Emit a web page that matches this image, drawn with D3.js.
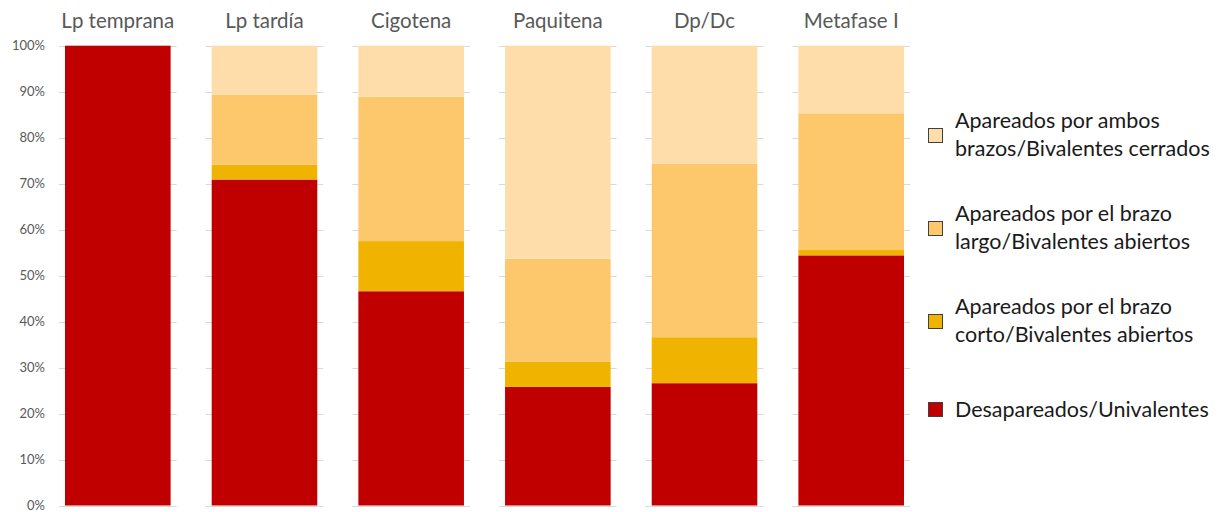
<!DOCTYPE html>
<html>
<head>
<meta charset="utf-8">
<script src="https://cdn.jsdelivr.net/npm/d3@7"></script>
<style>
  html, body { margin: 0; padding: 0; background: #ffffff; }
  svg { display: block; }
  text { font-family: Lato, "Open Sans", sans-serif; }
</style>
</head>
<body>
<div id="chart"></div>
<script>
// Meiotic stages (one column each)
const stages = ["Lp temprana", "Lp tardía", "Cigotena", "Paquitena", "Dp/Dc", "Metafase I"];

// Percent of chromosomes in each pairing state, per stage
const desapareados = [100.0, 70.9, 46.6, 25.8, 26.6, 54.4];
const brazoCorto   = [0.0,   3.2,  10.9, 5.5,  10.0, 1.3];
const brazoLargo   = [0.0,   15.2, 31.4, 22.4, 37.7, 29.6];
const ambosBrazos  = [0.0,   10.7, 11.1, 46.3, 25.7, 14.7];

const seriesNames = [
  "Desapareados/Univalentes",
  "Apareados por el brazo corto/Bivalentes abiertos",
  "Apareados por el brazo largo/Bivalentes abiertos",
  "Apareados por ambos brazos/Bivalentes cerrados"
];
const legendLines = [
  ["Apareados por ambos", "brazos/Bivalentes cerrados"],
  ["Apareados por el brazo", "largo/Bivalentes abiertos"],
  ["Apareados por el brazo", "corto/Bivalentes abiertos"],
  ["Desapareados/Univalentes"]
];
const yTicks = [0, 10, 20, 30, 40, 50, 60, 70, 80, 90, 100];

const colors = ["#C00000", "#EFB300", "#FDC86C", "#FFDDAB"];

const W = 1223, H = 512;
const svg = d3.select("#chart").append("svg").attr("width", W).attr("height", H);

const x = d3.scaleBand().domain(stages).range([65, 904]).paddingInner(0.28).paddingOuter(0);
const y = d3.scaleLinear().domain([0, 100]).range([505.5, 45.7]);

const table = stages.map((s, i) => ({
  stage: s,
  s0: desapareados[i], s1: brazoCorto[i], s2: brazoLargo[i], s3: ambosBrazos[i]
}));
const stack = d3.stack().keys(["s0", "s1", "s2", "s3"]);
const layers = stack(table);

// Short gridline segments under each column
const grid = svg.append("g");
stages.forEach(s => {
  grid.selectAll(null).data(yTicks).join("line")
    .attr("x1", x(s) - 6).attr("x2", x(s) + x.bandwidth() + 6)
    .attr("y1", d => Math.round(y(d)) + 0.5).attr("y2", d => Math.round(y(d)) + 0.5)
    .attr("stroke", "#d9d9d9").attr("stroke-width", 1);
});

// Y axis labels
const yAxis = d3.axisLeft(y).tickValues(yTicks).tickFormat(d => d + "%").tickSize(0).tickPadding(0);
const ya = svg.append("g").attr("transform", "translate(45,0)").call(yAxis);
ya.select(".domain").remove();
ya.selectAll("text").attr("fill", "#595959").style("font-size", "13px")
  .style("font-family", "Lato, sans-serif");

// Stacked bars
svg.append("g").selectAll("g").data(layers).join("g")
  .attr("fill", (d, i) => colors[i])
  .selectAll("rect").data(d => d).join("rect")
  .attr("x", d => x(d.data.stage))
  .attr("width", x.bandwidth())
  .attr("y", d => y(d[1]))
  .attr("height", d => Math.max(0, y(d[0]) - y(d[1])));

// Column titles
svg.append("g").selectAll("text").data(stages).join("text")
  .attr("x", d => x(d) + x.bandwidth() / 2)
  .attr("y", 28)
  .attr("text-anchor", "middle")
  .attr("fill", "#595959")
  .style("font-size", "20.5px")
  .text(d => d);

// Legend
const legendTop = [128, 221, 314, 402];
const lg = svg.append("g");
[3, 2, 1, 0].forEach((si, k) => {
  const lines = legendLines[k];
  const g = lg.append("g").attr("transform", `translate(928,${legendTop[k]})`);
  g.append("rect").attr("x", 0.5).attr("y", 0.5).attr("width", 14).attr("height", 14)
    .attr("fill", colors[si]).attr("stroke", "#404040").attr("stroke-width", 1);
  const t = g.append("text").attr("fill", "#1a1a1a").style("font-size", "21.5px");
  if (lines.length === 2) {
    t.append("tspan").attr("x", 27).attr("y", 0).text(lines[0]);
    t.append("tspan").attr("x", 27).attr("y", 28).text(lines[1]);
  } else {
    t.append("tspan").attr("x", 27).attr("y", 15).text(lines[0]);
  }
  t.append("title").text(seriesNames[si]);
});
</script>
</body>
</html>
